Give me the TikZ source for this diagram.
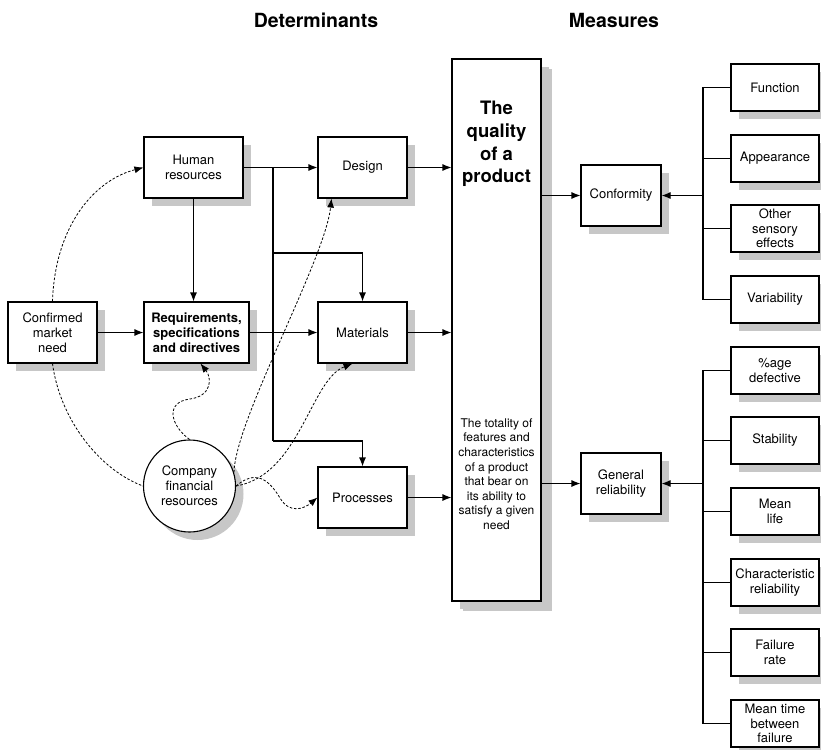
\documentclass[tikz,border=0pt]{standalone}
\usepackage{fontspec}
\setmainfont{TeX Gyre Heros}
\usetikzlibrary{arrows.meta,positioning,shadows}

\begin{document}
\begin{tikzpicture}[x=1pt, y=-1pt, >={Latex[length=9pt,width=7pt]}, line width=1.1pt,
		box/.style={shape=rectangle, draw, fill=white, align=center, inner sep=1pt, minimum width=89pt, minimum height=61pt, font=\fontsize{13}{15}\selectfont, drop shadow={shadow xshift=8pt, shadow yshift=-8pt, fill=black!22, opacity=1}},
		leaf/.style={box, minimum width=88pt, minimum height=47pt, font=\fontsize{13}{14.5}\selectfont},
		title/.style={font=\fontsize{19.5}{22}\selectfont\bfseries},
		dep/.style={draw, dashed, dash pattern=on 2.5pt off 1.8pt, line width=0.8pt}]
	\useasboundingbox (0,0) rectangle (821,749);
	% headings
	\node[title] (det) at (316,20) {Determinants};
	\node[title] (meas) at (614,20) {Measures};
	% determinants
	\node[box, minimum width=99pt] (hr) at (193.5,167.5) {Human\\resources};
	\node[box] (design) at (362.5,167.5) {Design};
	\node[box] (cmn) at (52.5,332.5) {Confirmed\\market\\need};
	\node[box, minimum width=105pt, font=\fontsize{13}{15}\selectfont\bfseries] (req) at (196.5,332.5) {Requirements,\\specifications\\and directives};
	\node[box] (mat) at (362.5,332.5) {Materials};
	\node[box] (proc) at (362.5,497.5) {Processes};
	\node[box, shape=circle, minimum size=92pt, drop shadow={shadow xshift=6pt, shadow yshift=-6pt, fill=black!22, opacity=1}] (fin) at (189.5,486) {Company\\financial\\resources};
	% the product
	\node[box, minimum height=542pt, drop shadow={shadow xshift=11pt, shadow yshift=-10pt, fill=black!22, opacity=1}] (quality) at (496.5,330) {};
	\node[align=center, font=\fontsize{18.5}{22.6}\selectfont\bfseries] (qtitle) at (496.5,144) {The\\quality\\of a\\product};
	\node[align=center, font=\fontsize{12}{14.6}\selectfont] (qdef) at (496.5,474) {The totality of\\features and\\characteristics\\of a product\\that bear on\\its ability to\\satisfy a given\\need};
	% measures
	\node[box, minimum width=80pt] (conf) at (621,195.5) {Conformity};
	\node[box, minimum width=80pt] (rel) at (621,483.5) {General\\reliability};
	\node[leaf] (func) at (775,87.5) {Function};
	\node[leaf] (app) at (775,158.5) {Appearance};
	\node[leaf] (sens) at (775,228.5) {Other\\sensory\\effects};
	\node[leaf] (vari) at (775,299.5) {Variability};
	\node[leaf] (defect) at (775,370.5) {\%age\\defective};
	\node[leaf] (stab) at (775,440.5) {Stability};
	\node[leaf] (life) at (775,511.5) {Mean\\life};
	\node[leaf] (charrel) at (775,582.5) {Characteristic\\reliability};
	\node[leaf] (frate) at (775,652.5) {Failure\\rate};
	\node[leaf] (mtbf) at (775,723.5) {Mean time\\between\\failure};
	% solid connectors
	\coordinate (split) at (273,167.5);
	\coordinate (mbranch) at (273,253);
	\coordinate (pbranch) at (273,441);
	\draw[->] (hr) -- (design);
	\draw[->] (hr.south) -- (hr.south |- req.north);
	\draw[->] (cmn) -- (req);
	\draw[->] (req) -- (mat);
	\draw (split) -- (pbranch);
	\draw[->] (mbranch) -| (mat.north);
	\draw[->] (pbranch) -| (proc.north);
	\draw[->] (design) -- (design -| quality.west);
	\draw[->] (mat) -- (mat -| quality.west);
	\draw[->] (proc) -- (proc -| quality.west);
	\draw[->] (conf -| quality.east) -- (conf);
	\draw[->] (rel -| quality.east) -- (rel);
	\coordinate (cbus) at (703,195.5);
	\coordinate (rbus) at (703,483.5);
	\draw (func.west) -| (cbus) |- (vari.west);
	\draw (app.west) -- (app.west -| cbus);
	\draw (sens.west) -- (sens.west -| cbus);
	\draw[->] (cbus) -- (conf);
	\draw (defect.west) -| (rbus) |- (mtbf.west);
	\foreach \m in {stab,life,charrel,frate}
		\draw (\m.west) -- (\m.west -| rbus);
	\draw[->] (rbus) -- (rel);
	% dashed influences
	\draw[dep, ->] (cmn.north) .. controls (55,225) and (95,180) .. (hr.west);
	\draw[dep] (cmn.south) .. controls (60,420) and (100,470) .. (fin.west);
	\draw[dep, ->] (fin.north) .. controls (170,425) and (165,402) .. (190,399) .. controls (212,396) and (212,378) .. ([xshift=4pt]req.south);
	\draw[dep, ->] (fin.17) .. controls (235,420) and (325,260) .. ([xshift=-31pt]design.south);
	\draw[dep, ->] (fin.east) .. controls (300,475) and (310,380) .. ([xshift=-10pt]mat.south);
	\draw[dep, ->] (fin.east) .. controls (255,470) and (268,478) .. (280,498) .. controls (290,515) and (305,508) .. (proc.west);
\end{tikzpicture}
\end{document}
